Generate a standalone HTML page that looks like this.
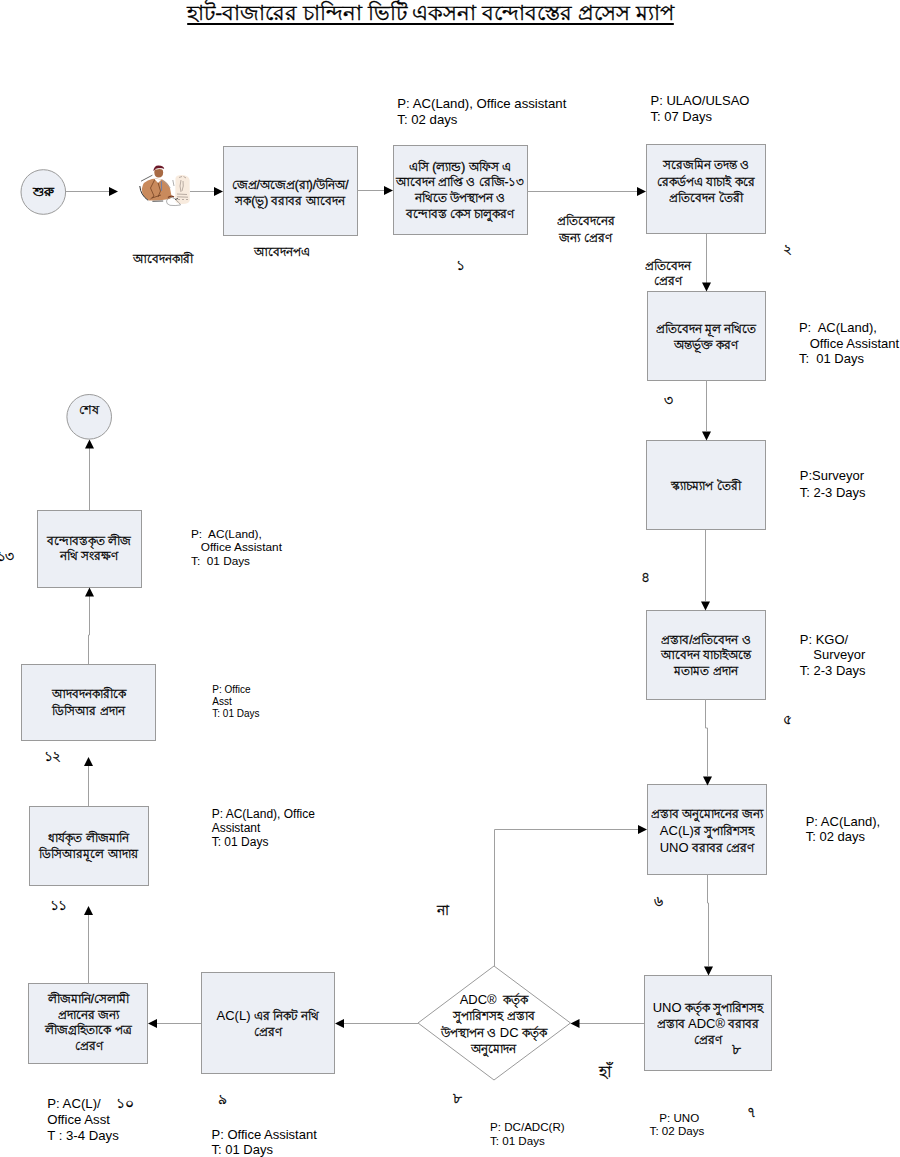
<!DOCTYPE html>
<html><head><meta charset="utf-8"><style>
html,body{margin:0;padding:0;background:#fff;}
body{width:900px;height:1157px;position:relative;overflow:hidden;font-family:"Liberation Sans",sans-serif;color:#000;}
svg{position:absolute;left:0;top:0;}
.t{position:absolute;white-space:nowrap;}
.b{-webkit-text-stroke:0.3px #000;}
.e{-webkit-text-stroke:0;font-size:13px;}
u{text-decoration-thickness:1.5px;text-underline-offset:3px;}
</style></head><body>
<svg width="900" height="1157" viewBox="0 0 900 1157">
<circle cx="43.3" cy="192" r="22.3" fill="#eceff5" stroke="#9a9a9a" stroke-width="1"/>
<circle cx="89.2" cy="416.8" r="22.3" fill="#eceff5" stroke="#9a9a9a" stroke-width="1"/>
<rect x="223.5" y="146.5" width="134" height="89" fill="#eceff5" stroke="#9a9a9a" stroke-width="1"/>
<rect x="393.5" y="145.5" width="134" height="89" fill="#eceff5" stroke="#9a9a9a" stroke-width="1"/>
<rect x="646.5" y="144.5" width="119" height="89" fill="#eceff5" stroke="#9a9a9a" stroke-width="1"/>
<rect x="647.5" y="291.5" width="118" height="89" fill="#eceff5" stroke="#9a9a9a" stroke-width="1"/>
<rect x="646.5" y="440.5" width="119" height="89" fill="#eceff5" stroke="#9a9a9a" stroke-width="1"/>
<rect x="646.5" y="610.5" width="119" height="89" fill="#eceff5" stroke="#9a9a9a" stroke-width="1"/>
<rect x="647.5" y="784.5" width="119" height="90" fill="#eceff5" stroke="#9a9a9a" stroke-width="1"/>
<rect x="644.5" y="975.5" width="127" height="95" fill="#eceff5" stroke="#9a9a9a" stroke-width="1"/>
<rect x="201.5" y="972.5" width="133" height="101" fill="#eceff5" stroke="#9a9a9a" stroke-width="1"/>
<rect x="28.5" y="983.5" width="119" height="80" fill="#eceff5" stroke="#9a9a9a" stroke-width="1"/>
<rect x="29.5" y="806.5" width="119" height="79" fill="#eceff5" stroke="#9a9a9a" stroke-width="1"/>
<rect x="21.5" y="664.5" width="134" height="76" fill="#eceff5" stroke="#9a9a9a" stroke-width="1"/>
<rect x="37.5" y="510.5" width="104" height="77" fill="#eceff5" stroke="#9a9a9a" stroke-width="1"/>
<polygon points="494,966 570.5,1023 494,1080 418,1023" fill="#fff" stroke="#9a9a9a" stroke-width="1"/>
<path d="M66,191.5 L110,191.5" fill="none" stroke="#a0a0a0" stroke-width="1"/>
<polygon points="118,191.5 109,187.0 109,196.0" fill="#000"/>
<path d="M190,191.5 L214,191.5" fill="none" stroke="#a0a0a0" stroke-width="1"/>
<polygon points="223,191.5 214,187.0 214,196.0" fill="#000"/>
<path d="M357,190.5 L385,190.5" fill="none" stroke="#a0a0a0" stroke-width="1"/>
<polygon points="393,190.5 384,186.0 384,195.0" fill="#000"/>
<path d="M527,191.5 L637,191.5" fill="none" stroke="#a0a0a0" stroke-width="1"/>
<polygon points="646,191.5 637,187.0 637,196.0" fill="#000"/>
<path d="M706.5,234 L706.5,283" fill="none" stroke="#a0a0a0" stroke-width="1"/>
<polygon points="706.5,291.5 702.0,282.5 711.0,282.5" fill="#000"/>
<path d="M706.5,380 L706.5,431" fill="none" stroke="#a0a0a0" stroke-width="1"/>
<polygon points="706.5,440.5 702.0,431.5 711.0,431.5" fill="#000"/>
<path d="M705.5,530 L705.5,601" fill="none" stroke="#a0a0a0" stroke-width="1"/>
<polygon points="705.5,610.5 701.0,601.5 710.0,601.5" fill="#000"/>
<path d="M705.5,699 L705.5,728 L707.5,728 L707.5,776" fill="none" stroke="#a0a0a0" stroke-width="1"/>
<polygon points="707.5,785.5 703.0,776.5 712.0,776.5" fill="#000"/>
<path d="M707.5,874 L707.5,903 L708.5,903 L708.5,966" fill="none" stroke="#a0a0a0" stroke-width="1"/>
<polygon points="708.5,975.5 704.0,966.5 713.0,966.5" fill="#000"/>
<path d="M644,1023.5 L579,1023.5" fill="none" stroke="#a0a0a0" stroke-width="1"/>
<polygon points="570.5,1023.5 579.5,1019.0 579.5,1028.0" fill="#000"/>
<path d="M494.5,966 L494.5,829.5 L638,829.5" fill="none" stroke="#a0a0a0" stroke-width="1"/>
<polygon points="647,829.5 638,825.0 638,834.0" fill="#000"/>
<path d="M418,1023.5 L344,1023.5" fill="none" stroke="#a0a0a0" stroke-width="1"/>
<polygon points="335,1023.5 344,1019.0 344,1028.0" fill="#000"/>
<path d="M201,1023.5 L157,1023.5" fill="none" stroke="#a0a0a0" stroke-width="1"/>
<polygon points="148,1023.5 157,1019.0 157,1028.0" fill="#000"/>
<path d="M88.5,984 L88.5,915" fill="none" stroke="#a0a0a0" stroke-width="1"/>
<polygon points="88.5,906 84.0,915 93.0,915" fill="#000"/>
<path d="M88.5,806 L88.5,766" fill="none" stroke="#a0a0a0" stroke-width="1"/>
<polygon points="88.5,757 84.0,766 93.0,766" fill="#000"/>
<path d="M88.5,664 L88.5,635 L89.5,635 L89.5,596" fill="none" stroke="#a0a0a0" stroke-width="1"/>
<polygon points="89.5,587.5 85.0,596.5 94.0,596.5" fill="#000"/>
<path d="M89.5,510 L89.5,448" fill="none" stroke="#a0a0a0" stroke-width="1"/>
<polygon points="89.5,439.5 85.0,448.5 94.0,448.5" fill="#000"/>

<g>
 <path d="M175.5 178 Q176 175 182 175 Q189 175.5 189.6 180 L189.8 200 Q189.5 204 182.5 204 Q175.3 204 175.2 200 Z" fill="#f8ebde"/>
 <path d="M179 177.5 L182 176.5 M183.5 176.5 L186 178 M181 180 Q179 186 181 192 M183 181 Q184 186 182 191 M177 194 L187 194.5 M177 196.8 L188 197.2 M178 199.5 L180 199.5 M182 199.5 L184 199.5 M186 199.5 L188 199.5" stroke="#8d8078" stroke-width="0.6" fill="none"/>
 <path d="M141.8 189 Q142.5 181 152 179 L156 178.5 L162 179.5 Q168 182 170 188 L171.8 197.5 Q170 199.5 166 199.5 Q158 201 149 200.4 Q142 197 141.8 189 Z" fill="#c98a5c"/>
 <path d="M155 179 L150.5 188 L154 196 L150.5 199 M157.5 181 L160.5 191 L158 197 M152 198 L161 195" stroke="#6a3a1c" stroke-width="0.7" fill="none"/>
 <path d="M154 178.5 L158 183 L161.5 179.5" fill="#fff" stroke="none"/>
 <path d="M161.4 181.2 L161.6 190.8" stroke="#6f7fa8" stroke-width="1" fill="none"/>
 <path d="M154.3 172.5 Q154 168.5 158.5 168.3 Q163.2 168.3 163.2 172.5 Q163 177.6 158.7 177.6 Q154.6 177.5 154.3 172.5 Z" fill="#a86a44"/>
 <path d="M153.3 171 Q154 165.3 158.5 165.4 Q164 165.6 164.2 169 Q161 167.8 158 168.4 Q155 169 153.3 171 Z" fill="#6b1828"/>
 <path d="M155.5 169.3 Q159.5 167.8 163.5 169.2" stroke="#fff" stroke-width="0.9" fill="none"/>
 <path d="M141 181.2 L152.4 175.2" stroke="#444" stroke-width="0.8" fill="none"/>
 <path d="M139.8 186 Q140.5 195 148.2 200.4" stroke="#333" stroke-width="1" fill="none"/>
 <path d="M152.4 201.3 L163.2 201" stroke="#444" stroke-width="0.9" fill="none"/>
 <path d="M162 179.4 L170.4 187.8" stroke="#9aa4b8" stroke-width="0.7" fill="none"/>
 <path d="M172.8 180 L174 186" stroke="#777" stroke-width="0.6" fill="none"/>
 <path d="M166.5 201 Q168 197 172 197.5 Q176 198.5 177 201 Q180 203 180.5 205 Q175 206 170 205.3 Q166 204 166.5 201 Z" fill="none" stroke="#7a7a7a" stroke-width="0.6"/>
 <path d="M168 197.5 Q171 195 174 197" stroke="#7a3a20" stroke-width="1.2" fill="none"/>
 <path d="M175 199.5 L178 198.5" stroke="#333" stroke-width="0.9"/>
</g>
</svg>
<div class="t b" style="left:430.5px;top:0.0px;transform:translateX(-50%);text-align:center;font-size:20.8px;line-height:26px;-webkit-text-stroke:0.35px #000;"><u>হাট-বাজারের চান্দিনা ভিটি একসনা বন্দোবস্তের প্রসেস ম্যাপ</u></div>
<div class="t b" style="left:43.3px;top:183.5px;transform:translateX(-50%);text-align:center;font-size:13px;line-height:16px;-webkit-text-stroke:0.5px #000;">শুরু</div>
<div class="t b" style="left:89.2px;top:402.0px;transform:translateX(-50%);text-align:center;font-size:12.5px;line-height:16px;-webkit-text-stroke:0.25px #000;">শেষ</div>
<div class="t b" style="left:163px;top:250.5px;transform:translateX(-50%);text-align:center;font-size:12px;line-height:16px;">আবেদনকারী</div>
<div class="t b" style="left:282px;top:243.5px;transform:translateX(-50%);text-align:center;font-size:12px;line-height:16px;">আবেদনপএ</div>
<div class="t b" style="left:290px;top:176.5px;transform:translateX(-50%);text-align:center;font-size:12px;line-height:16px;">জেপ্র/অজেপ্র(রা)/উনিঅ/<br>সক(ভূ) বরাবর আবেদন</div>
<div class="t b" style="left:460px;top:159.6px;transform:translateX(-50%);text-align:center;font-size:12px;line-height:15.8px;">এসি (ল্যান্ড) অফিস এ<br>আবেদন প্রাপ্তি ও রেজি-১৩<br>নথিতে উপস্থাপন ও<br>বন্দোবস্ত কেস চালুকরণ</div>
<div class="t b" style="left:706px;top:157.35px;transform:translateX(-50%);text-align:center;font-size:12px;line-height:16.3px;">সরেজমিন তদন্ত ও<br>রেকর্ডপএ যাচাই করে<br>প্রতিবেদন তৈরী</div>
<div class="t b" style="left:706px;top:320.8px;transform:translateX(-50%);text-align:center;font-size:12px;line-height:16px;">প্রতিবেদন মূল নথিতে<br>অন্তর্ভূক্ত করণ</div>
<div class="t b" style="left:706px;top:477.9px;transform:translateX(-50%);text-align:center;font-size:12px;line-height:16px;">স্ক্যাচম্যাপ তৈরী</div>
<div class="t b" style="left:706px;top:632.7px;transform:translateX(-50%);text-align:center;font-size:12px;line-height:15.6px;">প্রস্তাব/প্রতিবেদন ও<br>আবেদন যাচাইঅন্তে<br>মতামত প্রদান</div>
<div class="t b" style="left:707px;top:807.15px;transform:translateX(-50%);text-align:center;font-size:12px;line-height:15.9px;">প্রস্তাব অনুমোদনের জন্য<br><span class=e>AC(L)</span>র সুপারিশসহ<br><span class=e>UNO</span> বরাবর প্রেরণ</div>
<div class="t b" style="left:708px;top:999.5px;transform:translateX(-50%);text-align:center;font-size:12px;line-height:16px;"><span class=e>UNO</span> কর্তৃক সুপারিশসহ<br>প্রস্তাব <span class=e>ADC®</span> বরাবর<br>প্রেরণ</div>
<div class="t b" style="left:494px;top:991.9499999999999px;transform:translateX(-50%);text-align:center;font-size:12px;line-height:15.9px;"><span class=e>ADC®</span>&nbsp; কর্তৃক<br>সুপারিশসহ প্রস্তাব<br>উপস্থাপন ও <span class=e>DC</span> কর্তৃক<br>অনুমোদন</div>
<div class="t b" style="left:268px;top:1008.25px;transform:translateX(-50%);text-align:center;font-size:12px;line-height:15.5px;"><span class=e>AC(L)</span> এর নিকট নথি<br>প্রেরণ</div>
<div class="t b" style="left:88.5px;top:992.3000000000001px;transform:translateX(-50%);text-align:center;font-size:12px;line-height:15.6px;">লীজমানি/সেলামী<br>প্রদানের জন্য<br>লীজগ্রহিতাকে পত্র<br>প্রেরণ</div>
<div class="t b" style="left:88.5px;top:830.2px;transform:translateX(-50%);text-align:center;font-size:12px;line-height:16px;">ধার্যকৃত লীজমানি<br>ডিসিআরমূলে আদায়</div>
<div class="t b" style="left:88.5px;top:686.4499999999999px;transform:translateX(-50%);text-align:center;font-size:12px;line-height:16.7px;">আদবদনকারীকে<br>ডিসিআর প্রদান</div>
<div class="t b" style="left:89px;top:534.0px;transform:translateX(-50%);text-align:center;font-size:12px;line-height:15px;">বন্দোবস্তকৃত লীজ<br>নথি সংরক্ষণ</div>
<div class="t b" style="left:585.5px;top:213.25px;transform:translateX(-50%);text-align:center;font-size:12px;line-height:16.5px;">প্রতিবেদনের<br>জন্য প্রেরণ</div>
<div class="t b" style="left:668px;top:258.65px;transform:translateX(-50%);text-align:center;font-size:12px;line-height:15.7px;">প্রতিবেদন<br>প্রেরণ</div>
<div class="t b" style="left:460.5px;top:258.0px;transform:translateX(-50%);text-align:center;font-size:13.5px;line-height:16px;-webkit-text-stroke:0.3px #000;letter-spacing:-0.8px;">১</div>
<div class="t b" style="left:787px;top:241.6px;transform:translateX(-50%);text-align:center;font-size:13.5px;line-height:16px;-webkit-text-stroke:0.3px #000;letter-spacing:-0.8px;">২</div>
<div class="t b" style="left:668px;top:393.3px;transform:translateX(-50%);text-align:center;font-size:13.5px;line-height:16px;-webkit-text-stroke:0.3px #000;letter-spacing:-0.8px;">৩</div>
<div class="t b" style="left:645.5px;top:570.0px;transform:translateX(-50%);text-align:center;font-size:13.5px;line-height:16px;-webkit-text-stroke:0.3px #000;letter-spacing:-0.8px;">৪</div>
<div class="t b" style="left:787.4px;top:711.8px;transform:translateX(-50%);text-align:center;font-size:13.5px;line-height:16px;-webkit-text-stroke:0.3px #000;letter-spacing:-0.8px;">৫</div>
<div class="t b" style="left:658.4px;top:894.2px;transform:translateX(-50%);text-align:center;font-size:13.5px;line-height:16px;-webkit-text-stroke:0.3px #000;letter-spacing:-0.8px;">৬</div>
<div class="t b" style="left:751.3px;top:1105.3px;transform:translateX(-50%);text-align:center;font-size:13.5px;line-height:16px;-webkit-text-stroke:0.3px #000;letter-spacing:-0.8px;">৭</div>
<div class="t b" style="left:736px;top:1042.2px;transform:translateX(-50%);text-align:center;font-size:13.5px;line-height:16px;-webkit-text-stroke:0.3px #000;letter-spacing:-0.8px;">৮</div>
<div class="t b" style="left:457px;top:1090.7px;transform:translateX(-50%);text-align:center;font-size:13.5px;line-height:16px;-webkit-text-stroke:0.3px #000;letter-spacing:-0.8px;">৮</div>
<div class="t b" style="left:221.8px;top:1091.8px;transform:translateX(-50%);text-align:center;font-size:13.5px;line-height:16px;-webkit-text-stroke:0.3px #000;letter-spacing:-0.8px;">৯</div>
<div class="t b" style="left:124.6px;top:1096.0px;transform:translateX(-50%);text-align:center;font-size:13.5px;line-height:16px;-webkit-text-stroke:0.3px #000;letter-spacing:-0.8px;">১০</div>
<div class="t b" style="left:58px;top:897.9px;transform:translateX(-50%);text-align:center;font-size:13.5px;line-height:16px;-webkit-text-stroke:0.3px #000;letter-spacing:-0.8px;">১১</div>
<div class="t b" style="left:52px;top:748.7px;transform:translateX(-50%);text-align:center;font-size:13.5px;line-height:16px;-webkit-text-stroke:0.3px #000;letter-spacing:-0.8px;">১২</div>
<div class="t b" style="left:5px;top:548.7px;transform:translateX(-50%);text-align:center;font-size:13.5px;line-height:16px;-webkit-text-stroke:0.3px #000;letter-spacing:-0.8px;">১৩</div>
<div class="t b" style="left:442.6px;top:902.4px;transform:translateX(-50%);text-align:center;font-size:14px;line-height:16px;-webkit-text-stroke:0.3px #000;">না</div>
<div class="t b" style="left:605.8px;top:1064.2px;transform:translateX(-50%);text-align:center;font-size:16px;line-height:16px;-webkit-text-stroke:0.3px #000;">হাঁ</div>
<div class="t" style="left:397.3px;top:95.64px;font-size:13.2px;line-height:16px;">P: AC(Land), Office assistant<br>T: 02 days</div>
<div class="t" style="left:650.5px;top:93.20px;font-size:13px;line-height:16px;">P: ULAO/ULSAO<br>T: 07 Days</div>
<div class="t" style="left:798.9px;top:320.25px;font-size:13px;line-height:15.5px;">P:&nbsp; AC(Land),<br>&nbsp;&nbsp; Office Assistant<br>T:&nbsp; 01 Days</div>
<div class="t" style="left:799.8px;top:468.30px;font-size:13px;line-height:16.2px;">P:Surveyor<br>T: 2-3 Days</div>
<div class="t" style="left:799.8px;top:631.50px;font-size:13px;line-height:15.6px;">P: KGO/<br><span style="padding-left:13.5px">Surveyor</span><br>T: 2-3 Days</div>
<div class="t" style="left:805.7px;top:813.90px;font-size:13px;line-height:15.6px;">P: AC(Land),<br>T: 02 days</div>
<div class="t" style="left:649.6px;top:1110.57px;font-size:11.6px;line-height:13.4px;">&nbsp;&nbsp;&nbsp;P: UNO<br>T: 02 Days</div>
<div class="t" style="left:490px;top:1120.22px;font-size:11.6px;line-height:13.5px;">P: DC/ADC(R)<br>T: 01 Days</div>
<div class="t" style="left:211.5px;top:1126.65px;font-size:13px;line-height:15.1px;">P: Office Assistant<br>T: 01 Days</div>
<div class="t" style="left:47.2px;top:1096.34px;font-size:13.2px;line-height:16px;">P: AC(L)/<br>Office Asst<br>T : 3-4 Days</div>
<div class="t" style="left:211.7px;top:808.08px;font-size:12px;line-height:13.9px;">P: AC(Land), Office<br>Assistant<br>T: 01 Days</div>
<div class="t" style="left:212.3px;top:684.14px;font-size:10px;line-height:11.7px;">P: Office<br>Asst<br>T: 01 Days</div>
<div class="t" style="left:191px;top:527.70px;font-size:11.8px;line-height:13.4px;">P:&nbsp; AC(Land),<br>&nbsp;&nbsp; Office Assistant<br>T:&nbsp; 01 Days</div>
</body></html>
